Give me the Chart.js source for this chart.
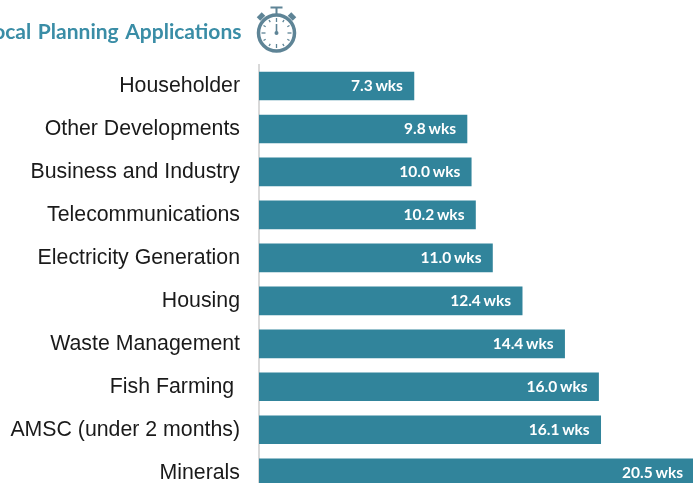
<!DOCTYPE html>
<html>
<head>
<meta charset="utf-8">
<style>
html,body{margin:0;padding:0;background:#fff;overflow:hidden;width:693px;height:483px}
#wrap{width:693px;height:483px;overflow:hidden;position:relative}
canvas{display:block}
</style>
<script src="https://cdn.jsdelivr.net/npm/chart.js@4/dist/chart.umd.min.js"></script>
</head>
<body>
<div id="wrap"><canvas id="c" width="693" height="526" style="width:693px;height:526px"></canvas></div>
<script>
const categories = ["Householder","Other Developments","Business and Industry","Telecommunications","Electricity Generation","Housing","Waste Management","Fish Farming ","AMSC (under 2 months)","Minerals"];
const weeks = [7.3,9.8,10.0,10.2,11.0,12.4,14.4,16.0,16.1,20.5];
const titleText = "Local Planning Applications";
const unit = " wks";
const teal = "#31849B";

const extras = {
  id:"extras",
  afterDatasetsDraw(chart){
    const ctx = chart.ctx;
    const meta = chart.getDatasetMeta(0);
    ctx.save();
    ctx.fillStyle="#fff";
    ctx.font="bold 15.5px Lato, 'Open Sans', sans-serif";
    ctx.wordSpacing="-1px";
    ctx.textAlign="right";
    ctx.textBaseline="middle";
    meta.data.forEach((b,i)=>{
      ctx.fillText(weeks[i].toFixed(1)+unit, b.x-11, b.y+0.5);
    });
    ctx.restore();
  },
  afterDraw(chart){
    const ctx = chart.ctx;
    ctx.save();
    ctx.fillStyle="#3A8DA6";
    ctx.font="bold 21px Lato, 'Open Sans', sans-serif";
    ctx.wordSpacing="1.5px";
    ctx.textAlign="right";
    ctx.textBaseline="middle";
    ctx.fillText(titleText, 241.5, 32);
    ctx.wordSpacing="0px";
    // stopwatch icon
    const cx=276.5, cy=33, col="#5E8496";
    ctx.strokeStyle=col; ctx.fillStyle=col; ctx.lineCap="butt";
    ctx.lineWidth=3.5;
    ctx.beginPath(); ctx.arc(cx,cy,18,0,Math.PI*2); ctx.stroke();
    ctx.lineWidth=2;
    ctx.beginPath(); ctx.moveTo(cx,14); ctx.lineTo(cx,8); ctx.moveTo(cx-6,7.5); ctx.lineTo(cx+6,7.5); ctx.stroke();
    [-1,1].forEach(s=>{
      ctx.save();
      ctx.translate(cx+s*15.5,cy-16.5);
      ctx.rotate(s*Math.PI/4);
      ctx.fillRect(-3.5,-2.5,7,5);
      ctx.restore();
    });
    ctx.lineWidth=1.3;
    for(let k=0;k<12;k++){
      const a=k*Math.PI/6, r0=k%3===0?11:12.5;
      ctx.beginPath();
      ctx.moveTo(cx+Math.sin(a)*r0,cy-Math.cos(a)*r0);
      ctx.lineTo(cx+Math.sin(a)*15,cy-Math.cos(a)*15);
      ctx.stroke();
    }
    ctx.lineWidth=1.6;
    ctx.beginPath(); ctx.moveTo(cx,cy); ctx.lineTo(cx,cy-9); ctx.stroke();
    ctx.beginPath(); ctx.arc(cx,cy,2,0,Math.PI*2); ctx.fill();
    ctx.restore();
  }
};

new Chart(document.getElementById("c"),{
  type:"bar",
  data:{labels:categories,datasets:[{data:weeks,backgroundColor:teal,borderWidth:0,barThickness:28}]},
  plugins:[extras],
  options:{
    indexAxis:"y",
    responsive:false,
    maintainAspectRatio:false,
    animation:false,
    layout:{padding:{top:64.5,right:0,bottom:0,left:0}},
    plugins:{legend:{display:false},title:{display:false},tooltip:{enabled:false}},
    scales:{
      x:{display:false,min:0,max:20.45,grid:{display:false}},
      y:{
        afterFit(s){s.width=259;},
        grid:{display:false,drawTicks:false},
        border:{display:true,color:"#D9D9D9",width:2},
        ticks:{color:"#1a1a1a",padding:19,font:{family:"'Liberation Sans', Arial, sans-serif",size:21.3},autoSkip:false}
      }
    }
  }
});
</script>
</body>
</html>
